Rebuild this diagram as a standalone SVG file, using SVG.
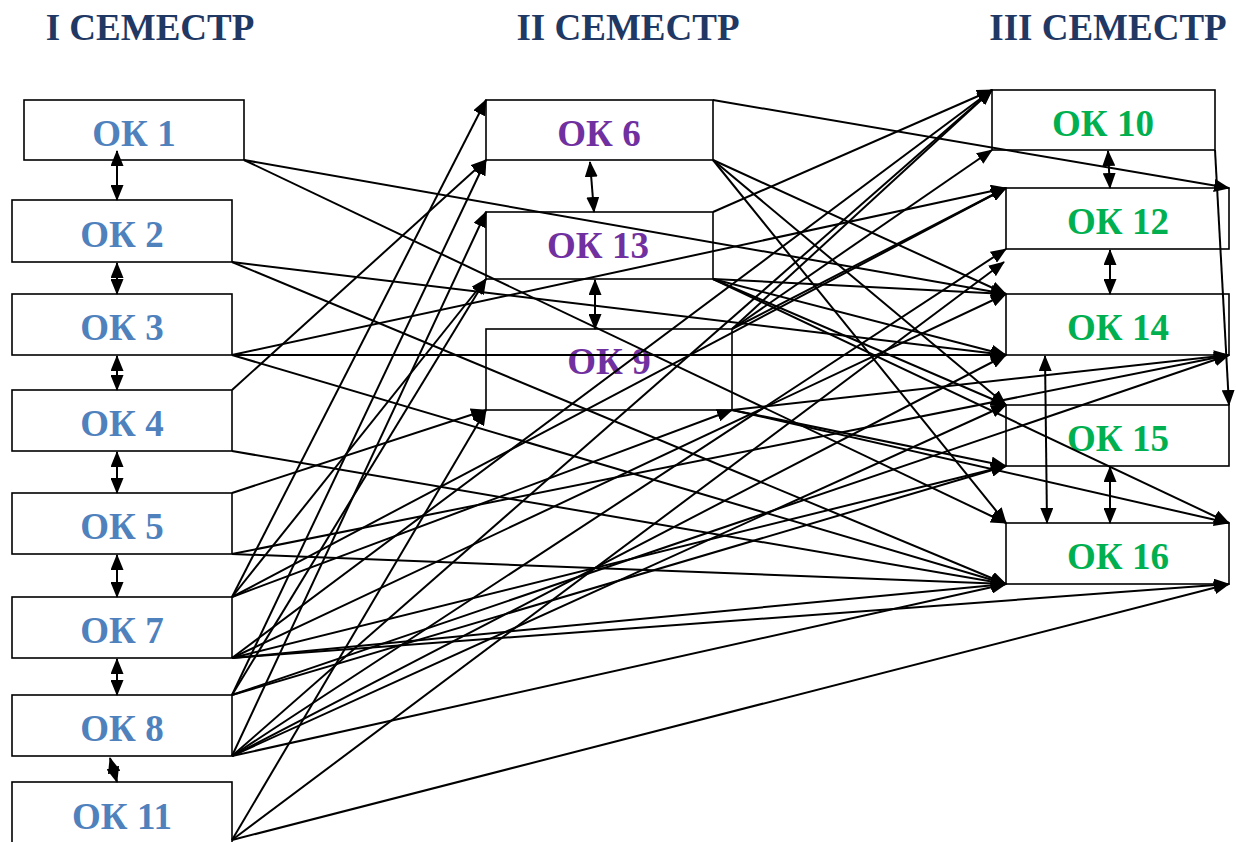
<svg xmlns="http://www.w3.org/2000/svg" width="1236" height="842" viewBox="0 0 1236 842">
<defs>
<marker id="ah" markerUnits="userSpaceOnUse" markerWidth="16" markerHeight="13" refX="15" refY="6.5" orient="auto-start-reverse"><path d="M0,0 L16,6.5 L0,13 z" fill="#000"/></marker>
<style>
.box{fill:none;stroke:#000;stroke-width:1.6}
.lbl{font-family:"Liberation Serif","Times New Roman",serif;font-weight:bold;font-size:37px;text-anchor:middle}
.s1{fill:#4F81BD}.s2{fill:#7030A0}.s3{fill:#00B050}
.ttl{font-family:"Liberation Serif","Times New Roman",serif;font-weight:bold;font-size:37px;fill:#1F3864;text-anchor:middle}
.c line{stroke:#000;stroke-width:2;marker-end:url(#ah)}
.c line.d{marker-start:url(#ah)}
</style>
</defs>
<rect width="1236" height="842" fill="#fff"/>
<text class="ttl" x="150" y="40">I СЕМЕСТР</text>
<text class="ttl" x="628" y="40">II СЕМЕСТР</text>
<text class="ttl" x="1108" y="40">III СЕМЕСТР</text>

<g id="ok1"><rect class="box" x="24" y="100" width="220" height="60"/><text class="lbl s1" x="134" y="146">ОК 1</text></g>
<g id="ok2"><rect class="box" x="12" y="200" width="220" height="62"/><text class="lbl s1" x="122" y="247">ОК 2</text></g>
<g id="ok3"><rect class="box" x="12" y="294" width="220" height="61"/><text class="lbl s1" x="122" y="340">ОК 3</text></g>
<g id="ok4"><rect class="box" x="12" y="390" width="220" height="61"/><text class="lbl s1" x="122" y="436">ОК 4</text></g>
<g id="ok5"><rect class="box" x="12" y="493" width="220" height="61"/><text class="lbl s1" x="122" y="539">ОК 5</text></g>
<g id="ok7"><rect class="box" x="12" y="597" width="220" height="61"/><text class="lbl s1" x="122" y="643">ОК 7</text></g>
<g id="ok8"><rect class="box" x="12" y="695" width="220" height="61"/><text class="lbl s1" x="122" y="741">ОК 8</text></g>
<g id="ok11"><rect class="box" x="12" y="782" width="220" height="72"/><text class="lbl s1" x="122" y="829">ОК 11</text></g>
<g id="ok6"><rect class="box" x="486" y="100" width="227" height="60"/><text class="lbl s2" x="599" y="146">ОК 6</text></g>
<g id="ok13"><rect class="box" x="486" y="212" width="227" height="67"/><text class="lbl s2" x="598" y="258">ОК 13</text></g>
<g id="ok9"><rect class="box" x="486" y="329" width="246" height="81"/><text class="lbl s2" x="609" y="374">ОК 9</text></g>
<g id="ok10"><rect class="box" x="992" y="90" width="223" height="60"/><text class="lbl s3" x="1103" y="136">ОК 10</text></g>
<g id="ok12"><rect class="box" x="1006" y="188" width="223" height="61"/><text class="lbl s3" x="1118" y="234">ОК 12</text></g>
<g id="ok14"><rect class="box" x="1006" y="294" width="223" height="61"/><text class="lbl s3" x="1118" y="340">ОК 14</text></g>
<g id="ok15"><rect class="box" x="1006" y="405" width="223" height="61"/><text class="lbl s3" x="1118" y="451">ОК 15</text></g>
<g id="ok16"><rect class="box" x="1006" y="523" width="223" height="61"/><text class="lbl s3" x="1118" y="569">ОК 16</text></g>

<g id="connectors" class="c">
<line class="d" x1="117" y1="151" x2="117" y2="200"/>
<line class="d" x1="117" y1="263" x2="117" y2="294"/>
<line class="d" x1="117" y1="356" x2="117" y2="390"/>
<line class="d" x1="117" y1="452" x2="117" y2="493"/>
<line class="d" x1="117" y1="555" x2="117" y2="597"/>
<line class="d" x1="117" y1="659" x2="117" y2="695"/>
<line class="d" x1="110" y1="758" x2="117" y2="782"/>
<line class="d" x1="590" y1="162" x2="594" y2="212"/>
<line class="d" x1="595" y1="280" x2="595" y2="329"/>
<line class="d" x1="1108" y1="151" x2="1110" y2="188"/>
<line class="d" x1="1110" y1="250" x2="1110" y2="294"/>
<line class="d" x1="1045" y1="356" x2="1047" y2="523"/>
<line class="d" x1="1110" y1="467" x2="1110" y2="523"/>
<line x1="244" y1="160" x2="1006" y2="294"/>
<line x1="244" y1="160" x2="1006" y2="523"/>
<line x1="232" y1="262" x2="1006" y2="355"/>
<line x1="232" y1="262" x2="1006" y2="584"/>
<line x1="232" y1="355" x2="1006" y2="188"/>
<line x1="232" y1="355" x2="1006" y2="355"/>
<line x1="232" y1="355" x2="1006" y2="584"/>
<line x1="232" y1="390" x2="486" y2="160"/>
<line x1="232" y1="451" x2="1006" y2="584"/>
<line x1="232" y1="493" x2="486" y2="410"/>
<line x1="232" y1="554" x2="1229" y2="355"/>
<line x1="232" y1="554" x2="1006" y2="584"/>
<line x1="232" y1="597" x2="486" y2="100"/>
<line x1="232" y1="597" x2="486" y2="279"/>
<line x1="232" y1="597" x2="732" y2="410"/>
<line x1="232" y1="597" x2="1006" y2="188"/>
<line x1="232" y1="658" x2="992" y2="90"/>
<line x1="232" y1="658" x2="1006" y2="294"/>
<line x1="232" y1="658" x2="1006" y2="466"/>
<line x1="232" y1="658" x2="1006" y2="584"/>
<line x1="232" y1="658" x2="1229" y2="584"/>
<line x1="232" y1="695" x2="486" y2="160"/>
<line x1="232" y1="695" x2="486" y2="279"/>
<line x1="232" y1="695" x2="1006" y2="466"/>
<line x1="232" y1="695" x2="1229" y2="355"/>
<line x1="232" y1="756" x2="486" y2="212"/>
<line x1="232" y1="756" x2="992" y2="90"/>
<line x1="232" y1="756" x2="1006" y2="249"/>
<line x1="232" y1="756" x2="1006" y2="355"/>
<line x1="232" y1="756" x2="1006" y2="405"/>
<line x1="232" y1="756" x2="1006" y2="584"/>
<line x1="232" y1="840" x2="486" y2="410"/>
<line x1="232" y1="840" x2="1004" y2="262"/>
<line x1="232" y1="840" x2="1229" y2="584"/>
<line x1="713" y1="100" x2="1229" y2="188"/>
<line x1="713" y1="160" x2="1006" y2="294"/>
<line x1="713" y1="160" x2="1006" y2="405"/>
<line x1="713" y1="160" x2="1006" y2="523"/>
<line x1="713" y1="212" x2="992" y2="90"/>
<line x1="713" y1="279" x2="1006" y2="294"/>
<line x1="713" y1="279" x2="1006" y2="355"/>
<line x1="713" y1="279" x2="1006" y2="405"/>
<line x1="713" y1="279" x2="1229" y2="523"/>
<line x1="732" y1="329" x2="992" y2="90"/>
<line x1="732" y1="329" x2="992" y2="150"/>
<line x1="732" y1="329" x2="1006" y2="188"/>
<line x1="732" y1="410" x2="1229" y2="355"/>
<line x1="732" y1="410" x2="1006" y2="466"/>
<line x1="732" y1="410" x2="1229" y2="523"/>
<line x1="1215" y1="150" x2="1229" y2="405"/>
</g>
</svg>
